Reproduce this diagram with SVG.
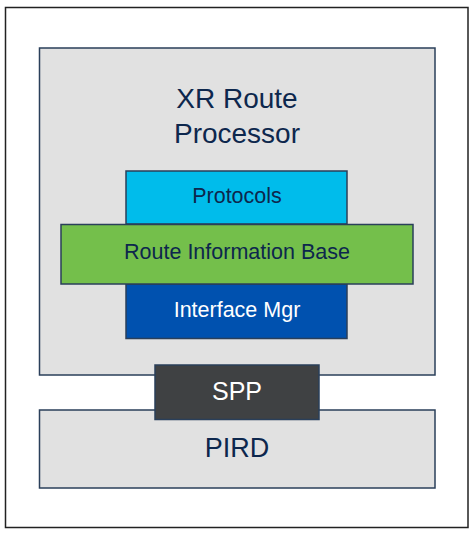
<svg xmlns="http://www.w3.org/2000/svg" width="474" height="536" viewBox="0 0 474 536">
<style>
.box{stroke:#2a3f5a;stroke-width:1.5}
.t{font-family:"Liberation Sans",Arial,sans-serif;text-anchor:middle}
.dark{fill:#0d274d}
.light{fill:#ffffff}
</style>
<rect x="0" y="0" width="474" height="536" fill="#ffffff"/>
<g id="frame"><rect x="5.5" y="7.5" width="462.5" height="520" fill="#ffffff" stroke="#222222" stroke-width="1.5"/></g>
<g id="rp">
<rect class="box" x="39.5" y="48" width="395.5" height="327" fill="#e1e1e1"/>
<text class="t dark" x="237" y="108" font-size="28">XR Route</text>
<text class="t dark" x="237" y="143" font-size="28">Processor</text>
</g>
<g id="pird">
<rect class="box" x="39.5" y="410" width="395.5" height="78" fill="#e1e1e1"/>
<text class="t dark" x="237" y="457" font-size="27">PIRD</text>
</g>
<g id="spp">
<rect class="box" x="155" y="365" width="164" height="54.5" fill="#3f4143"/>
<text class="t light" x="237" y="400" font-size="25">SPP</text>
</g>
<g id="protocols">
<rect class="box" x="126" y="171" width="221" height="53" fill="#00bceb"/>
<text class="t dark" x="237" y="203" font-size="21.5">Protocols</text>
</g>
<g id="interface">
<rect class="box" x="126" y="284" width="221" height="54.5" fill="#0051af"/>
<text class="t light" x="237" y="317" font-size="21.5">Interface Mgr</text>
</g>
<g id="rib">
<rect class="box" x="61" y="224.5" width="352" height="59.5" fill="#74bf4b"/>
<text class="t dark" x="237" y="259" font-size="21.5">Route Information Base</text>
</g>
<g id="connectors"></g>
</svg>
